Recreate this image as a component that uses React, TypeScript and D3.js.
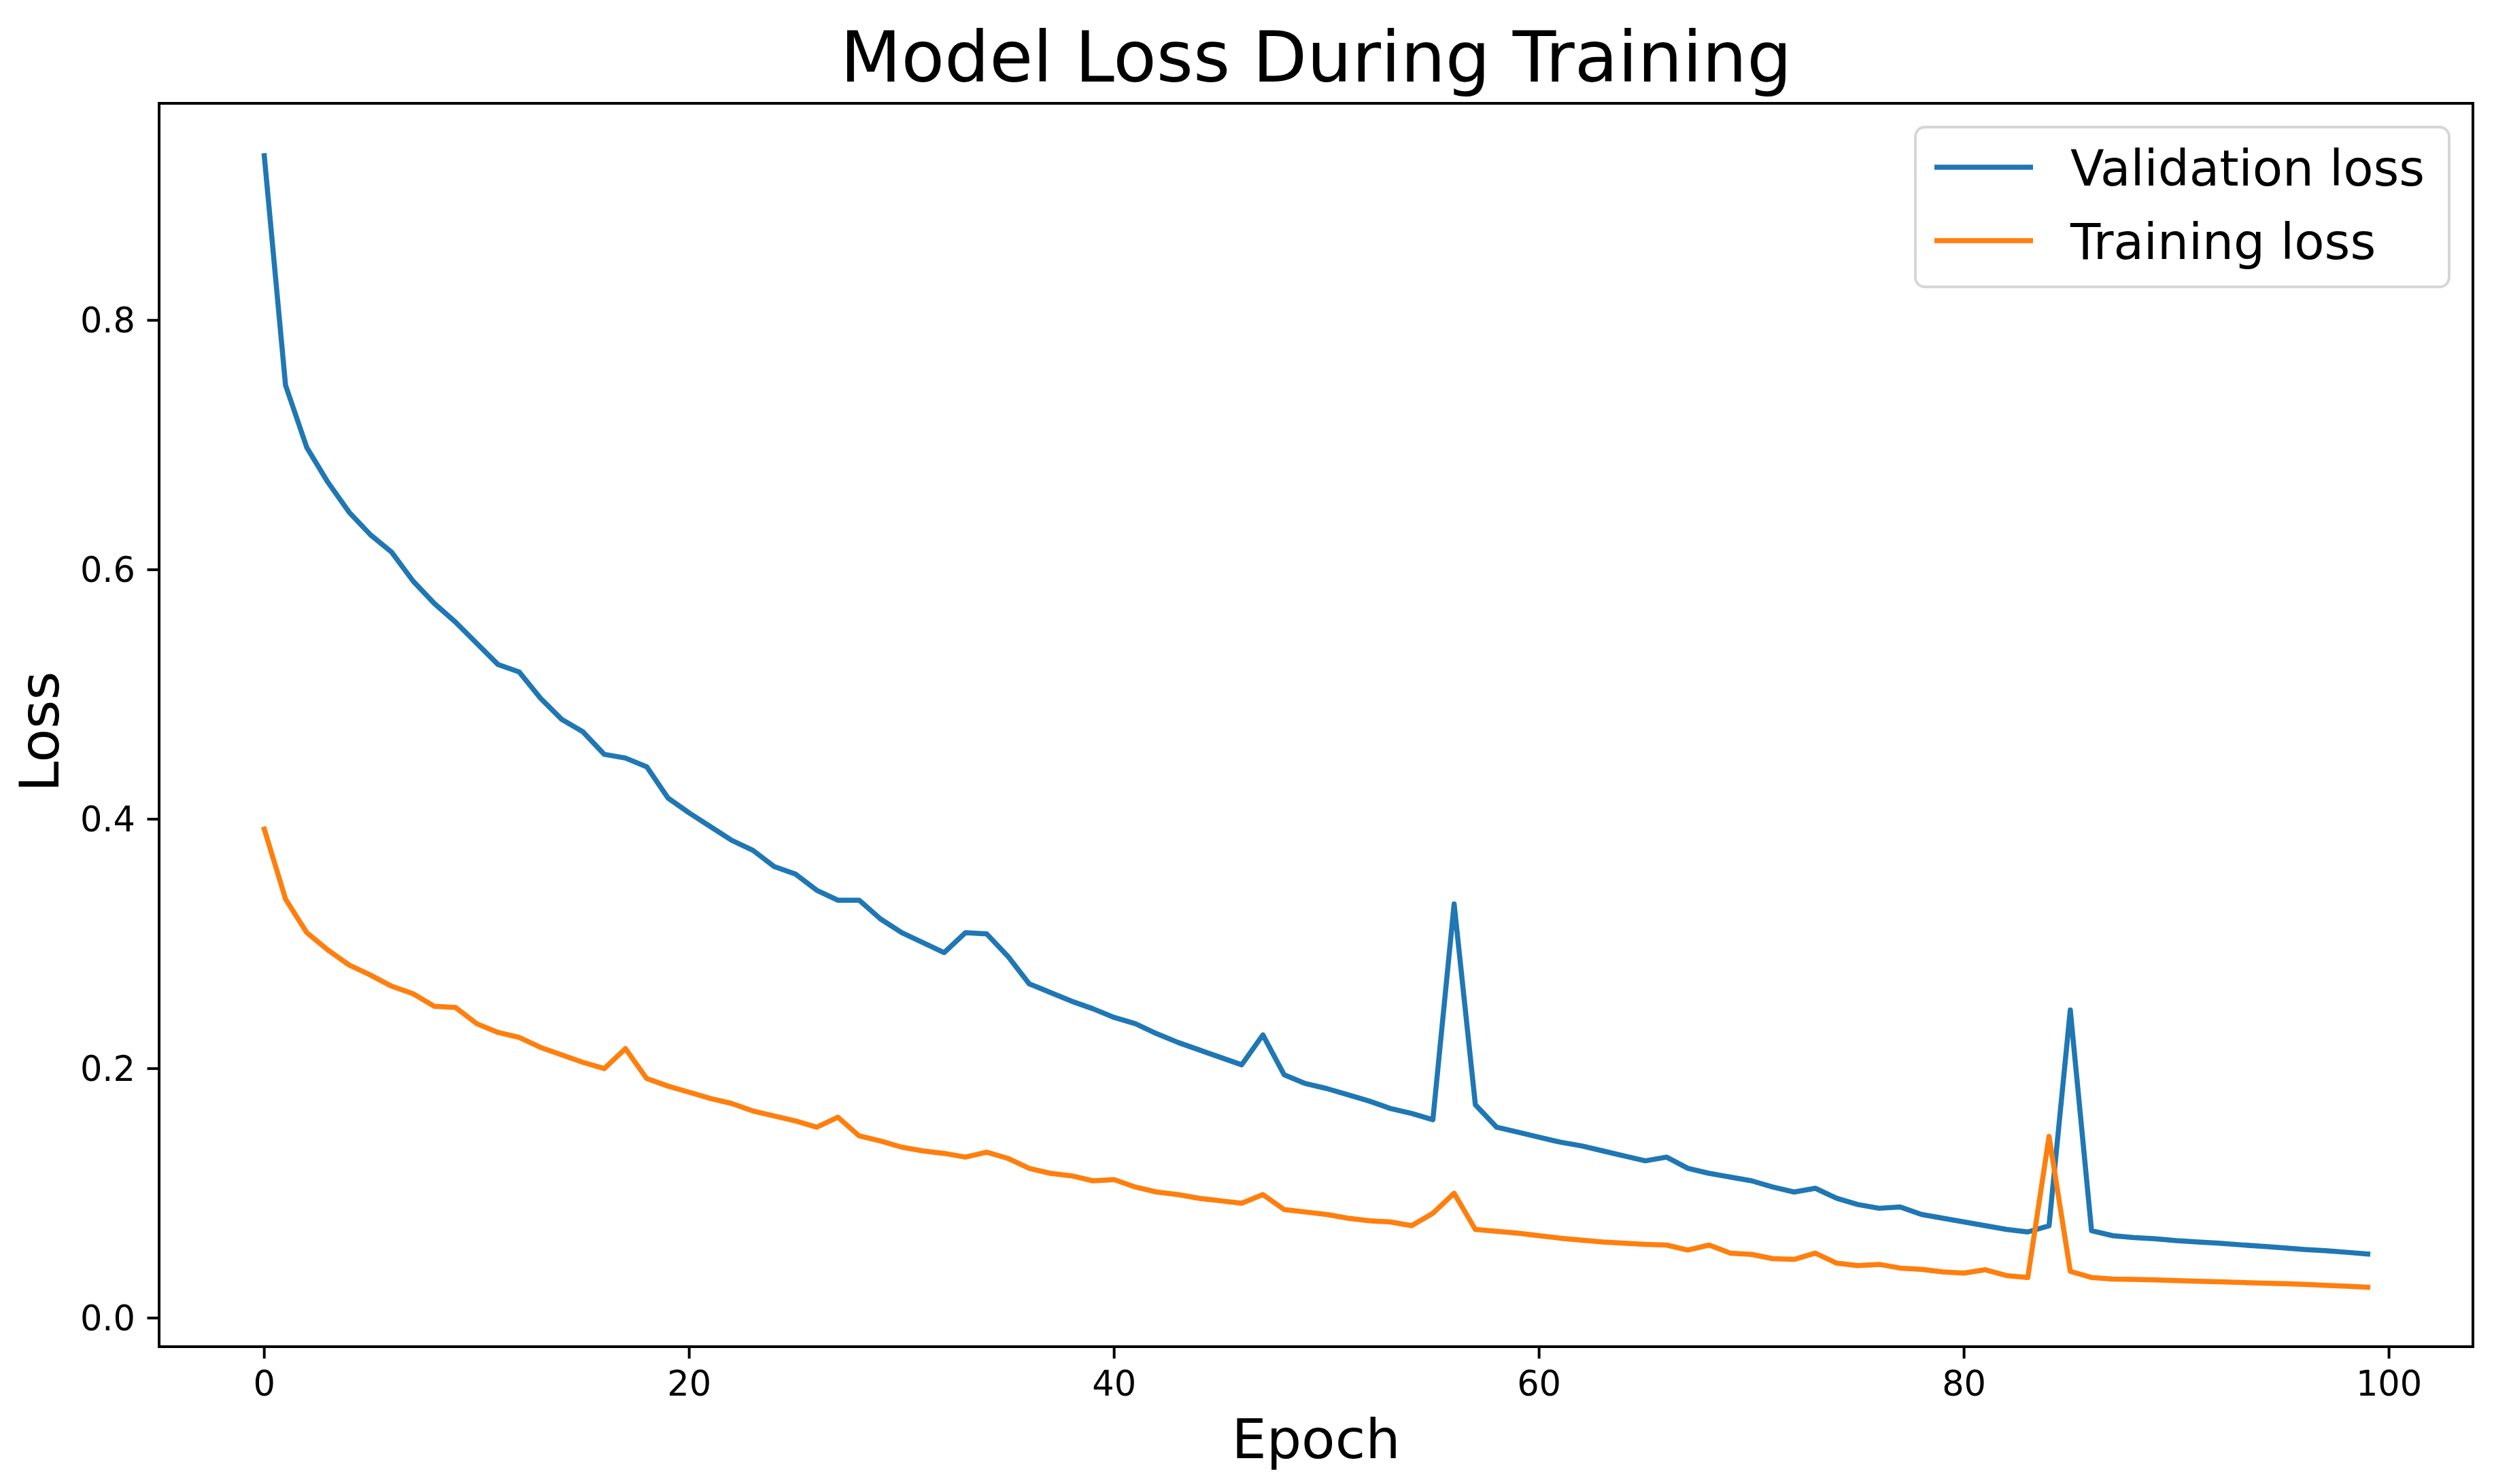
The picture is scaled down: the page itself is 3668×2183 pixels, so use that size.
import * as d3 from "d3";

// Loss curves, one value per epoch (0..99).
const epochs = d3.range(100);

const validationLoss = [
  0.932, 0.748, 0.698, 0.67, 0.646, 0.628, 0.614, 0.591, 0.573, 0.558,
  0.541, 0.524, 0.518, 0.497, 0.48, 0.47, 0.452, 0.449, 0.442, 0.417,
  0.405, 0.394, 0.383, 0.375, 0.362, 0.356, 0.343, 0.335, 0.335, 0.32,
  0.309, 0.301, 0.293, 0.309, 0.308, 0.29, 0.268, 0.261, 0.254, 0.248,
  0.241, 0.236, 0.228, 0.221, 0.215, 0.209, 0.203, 0.227, 0.195, 0.188,
  0.184, 0.179, 0.174, 0.168, 0.164, 0.159, 0.332, 0.171, 0.153, 0.149,
  0.145, 0.141, 0.138, 0.134, 0.13, 0.126, 0.129, 0.12, 0.116, 0.113,
  0.11, 0.105, 0.101, 0.104, 0.096, 0.091, 0.088, 0.089, 0.083, 0.08,
  0.077, 0.074, 0.071, 0.069, 0.074, 0.247, 0.07, 0.066, 0.0645, 0.0635,
  0.062, 0.061, 0.06, 0.0587, 0.0575, 0.0563, 0.055, 0.054, 0.0527, 0.0513,
];

const trainingLoss = [
  0.392, 0.336, 0.309, 0.295, 0.283, 0.275, 0.266, 0.26, 0.25, 0.249,
  0.236, 0.229, 0.225, 0.217, 0.211, 0.205, 0.2, 0.216, 0.192, 0.186,
  0.181, 0.176, 0.172, 0.166, 0.162, 0.158, 0.153, 0.161, 0.146, 0.142,
  0.137, 0.134, 0.132, 0.129, 0.133, 0.128, 0.12, 0.116, 0.114, 0.11,
  0.111, 0.105, 0.101, 0.099, 0.096, 0.094, 0.092, 0.099, 0.087, 0.085,
  0.083, 0.08, 0.078, 0.077, 0.074, 0.084, 0.1, 0.071, 0.0695, 0.068,
  0.066, 0.064, 0.0625, 0.061, 0.06, 0.059, 0.0585, 0.0545, 0.0585, 0.052,
  0.051, 0.0476, 0.047, 0.052, 0.044, 0.042, 0.043, 0.04, 0.039, 0.037,
  0.036, 0.0387, 0.034, 0.0325, 0.1456, 0.0374, 0.0325, 0.0313, 0.031, 0.0305,
  0.03, 0.0295, 0.029, 0.0285, 0.028, 0.0275, 0.027, 0.0262, 0.0255, 0.0247,
];

const xTicks = [0, 20, 40, 60, 80, 100];
const yTicks = [0, 0.2, 0.4, 0.6, 0.8];

const series = [
  { label: "Validation loss", values: validationLoss, color: "#1f77b4" },
  { label: "Training loss", values: trainingLoss, color: "#ff7f0e" },
];

const W = 3668;
const H = 2183;
// axes frame, in pixels of the 3668x2183 picture
const M = { left: 234, right: 3637, top: 152, bottom: 1981 };
const FONT = "DejaVu Sans, sans-serif";
const TICK = 17.5;

export default function App() {
  // matplotlib-style 5% margins around the data
  const x = d3.scaleLinear().domain([-4.95, 103.95]).range([M.left, M.right]);
  const y = d3.scaleLinear().domain([-0.023, 0.974]).range([M.bottom, M.top]);
  const fmt = d3.format(".1f");

  const line = (vals: number[]) =>
    d3
      .line<number>()
      .x((_, i) => x(epochs[i]))
      .y((d) => y(d))(vals) ?? "";

  const cx = (M.left + M.right) / 2;
  const cy = (M.top + M.bottom) / 2;

  // legend box geometry (fontsize ~72px)
  const lg = { x0: 2817, x1: 3602, y0: 187, y1: 422 };
  const rowY = [246, 354];

  return (
    <div style={{ position: "absolute", left: 0, top: 0 }}>
      <svg width={W} height={H} style={{ display: "block", background: "#fff" }} fontFamily={FONT}>
        <rect width={W} height={H} fill="#fff" />

        {series.map((s) => (
          <path
            key={s.label}
            d={line(s.values)}
            fill="none"
            stroke={s.color}
            strokeWidth={7.5}
            strokeLinejoin="round"
            strokeLinecap="square"
          />
        ))}

        {/* frame */}
        <rect
          x={M.left}
          y={M.top}
          width={M.right - M.left}
          height={M.bottom - M.top}
          fill="none"
          stroke="#000"
          strokeWidth={4}
        />

        {/* x ticks */}
        {xTicks.map((t) => (
          <g key={t} transform={`translate(${x(t)},${M.bottom})`}>
            <line y1={0} y2={TICK} stroke="#000" strokeWidth={4} />
            <text y={TICK + 17.5 + 37} fontSize={51} textAnchor="middle" fill="#000">
              {t}
            </text>
          </g>
        ))}

        {/* y ticks */}
        {yTicks.map((t) => (
          <g key={t} transform={`translate(${M.left},${y(t)})`}>
            <line x1={0} x2={-TICK} stroke="#000" strokeWidth={4} />
            <text x={-TICK - 17.5} y={18} fontSize={51} textAnchor="end" fill="#000">
              {fmt(t)}
            </text>
          </g>
        ))}

        <text x={cx} y={120} fontSize={104} textAnchor="middle" fill="#000">
          Model Loss During Training
        </text>
        <text x={cx} y={2145} fontSize={81} textAnchor="middle" fill="#000">
          Epoch
        </text>
        <text
          transform={`translate(86,${cy + 10}) rotate(-90)`}
          fontSize={81}
          textAnchor="middle"
          fill="#000"
        >
          Loss
        </text>

        {/* legend */}
        <rect
          x={lg.x0}
          y={lg.y0}
          width={lg.x1 - lg.x0}
          height={lg.y1 - lg.y0}
          rx={14}
          fill="#fff"
          fillOpacity={0.8}
          stroke="#d6d6d6"
          strokeWidth={4}
        />
        {series.map((s, i) => (
          <g key={s.label}>
            <line
              x1={2845}
              x2={2990}
              y1={rowY[i]}
              y2={rowY[i]}
              stroke={s.color}
              strokeWidth={7.5}
            />
            <text x={3045} y={rowY[i] + 27} fontSize={72.5} fill="#000">
              {s.label}
            </text>
          </g>
        ))}
      </svg>
    </div>
  );
}
